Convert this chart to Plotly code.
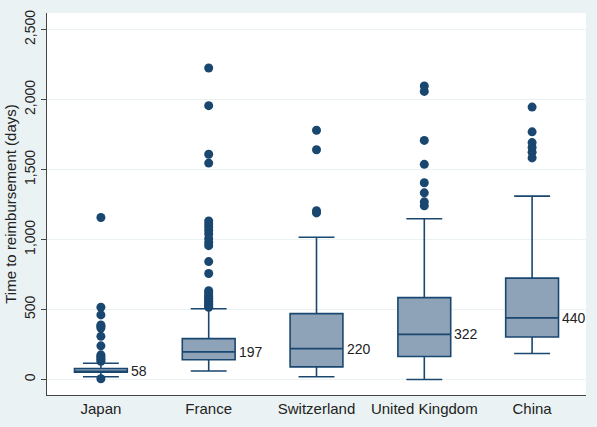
import plotly.graph_objects as go

countries = ["Japan", "France", "Switzerland", "United Kingdom", "China"]
q1 = [51, 141, 90, 164, 303]
medians = [58, 197, 220, 322, 440]
q3 = [78, 292, 470, 585, 724]
lower_whisker = [19, 60, 19, 0, 185]
upper_whisker = [116, 505, 1016, 1148, 1310]
median_labels = ["58", "197", "220", "322", "440"]

outliers_japan = [5, 130, 142, 153, 165, 176, 240, 308, 368, 380, 389, 461, 516, 1157]
outliers_france = [515, 525, 535, 545, 558, 570, 581, 592, 604, 620, 634, 757, 842, 956, 979,
                   1005, 1039, 1065, 1090, 1110, 1132, 1546, 1609, 1956, 2225]
outliers_switzerland = [1190, 1205, 1641, 1780]
outliers_uk = [1241, 1269, 1333, 1405, 1537, 1708, 2058, 2097]
outliers_china = [1583, 1623, 1658, 1692, 1769, 1946]
outliers = [outliers_japan, outliers_france, outliers_switzerland, outliers_uk, outliers_china]

navy = "#1a476f"
fill = "#8fa3b8"
bg = "#eaf2f3"

fig = go.Figure()
for i, c in enumerate(countries):
    fig.add_trace(go.Box(
        x=[c], q1=[q1[i]], median=[medians[i]], q3=[q3[i]],
        lowerfence=[lower_whisker[i]], upperfence=[upper_whisker[i]],
        width=0.49, whiskerwidth=0.68, fillcolor=fill,
        line=dict(color=navy, width=1.6), boxpoints=False, showlegend=False,
        hoverinfo="skip"))
    fig.add_trace(go.Scatter(
        x=[c] * len(outliers[i]), y=outliers[i], mode="markers",
        marker=dict(color=navy, size=9), showlegend=False))
    fig.add_annotation(x=c, y=medians[i], text=median_labels[i], showarrow=False,
                       xanchor="left", yanchor="middle", xshift=28,
                       font=dict(size=14, color="#222222", family="Arial"))

fig.update_layout(
    width=597, height=427,
    margin=dict(l=46, r=11, t=10, b=24),
    paper_bgcolor=bg, plot_bgcolor="white",
    font=dict(family="Arial", color="#222222"),
    showlegend=False,
)
fig.update_xaxes(
    type="category", categoryorder="array", categoryarray=countries,
    range=[-0.5, 4.5], showline=True, linecolor="#444444", linewidth=1,
    ticks="", showgrid=False, tickfont=dict(size=15, color="#222222"),
)
fig.update_yaxes(
    range=[-111, 2618], tickvals=[0, 500, 1000, 1500, 2000, 2500],
    tickformat=",", tickangle=-90, showline=True, linecolor="#444444", linewidth=1,
    ticks="outside", ticklen=5, tickcolor="#444444",
    gridcolor=bg, gridwidth=1, zeroline=False,
    tickfont=dict(size=14, color="#222222"),
    title=dict(text="Time to reimbursement (days)", font=dict(size=15, color="#222222"), standoff=2),
)

fig.write_html("out.html")
